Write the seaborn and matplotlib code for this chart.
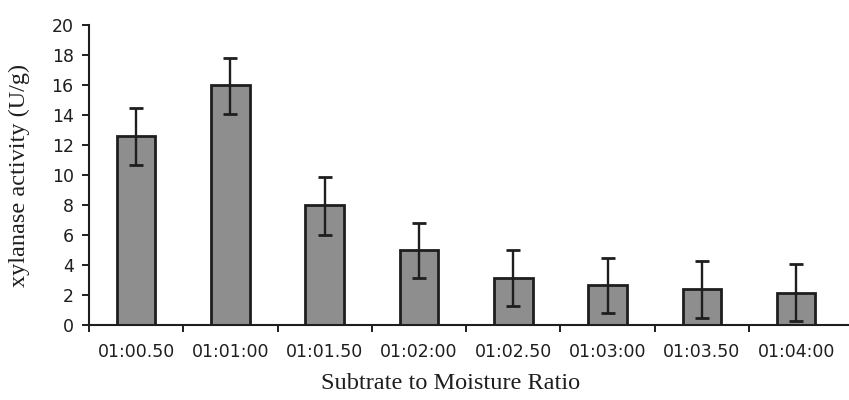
import matplotlib
matplotlib.use("Agg")
import numpy as np
import pandas as pd
import seaborn as sns
from matplotlib import pyplot as plt

ratios = ["01:00.50", "01:01:00", "01:01.50", "01:02:00",
          "01:02.50", "01:03:00", "01:03.50", "01:04:00"]
activity = [12.6, 16.0, 8.0, 5.0, 3.15, 2.65, 2.4, 2.15]
err_upper = [14.5, 17.8, 9.85, 6.8, 5.0, 4.45, 4.25, 4.05]
err_lower = [10.7, 14.1, 6.0, 3.15, 1.3, 0.8, 0.5, 0.3]

sns.set_style("ticks")
plt.rcParams["font.family"] = ["DejaVu Sans"]

df = pd.DataFrame({"ratio": ratios, "activity": activity})

fig = plt.figure(figsize=(8.49, 4.0), dpi=100)
ax = fig.add_axes([89 / 849, 75 / 400, 759 / 849, 300 / 400])

sns.barplot(data=df, x="ratio", y="activity", color="#8e8e8e", saturation=1,
            width=0.41, edgecolor="#1e1e1e", linewidth=2.0, ax=ax)

x = np.arange(len(ratios))
yerr = [np.array(activity) - np.array(err_lower), np.array(err_upper) - np.array(activity)]
ax.errorbar(x, activity, yerr=yerr, fmt="none", ecolor="#1e1e1e",
            elinewidth=1.7, capsize=5, capthick=2.0)

ax.set_ylim(0, 20)
ax.set_xlim(-0.5, len(ratios) - 0.45)
ax.set_yticks(range(0, 21, 2))
ax.set_xticks(np.arange(-0.5, len(ratios) - 0.5, 1.0))
ax.set_xticklabels([])
ax.set_xticks(x, minor=True)
ax.set_xticklabels(ratios, minor=True)
ax.tick_params(axis="x", which="minor", length=0, pad=13, labelsize=12.5, colors="#1e1e1e")
ax.tick_params(axis="x", which="major", length=5, width=1.4, color="#1e1e1e")
ax.tick_params(axis="y", length=5, width=1.4, color="#1e1e1e", labelsize=12.5,
               labelcolor="#1e1e1e", pad=6)

sns.despine(ax=ax)
for s in ["left", "bottom"]:
    ax.spines[s].set_linewidth(1.5)
    ax.spines[s].set_color("#1e1e1e")

ax.set_xlabel("Subtrate to Moisture Ratio", family="Liberation Serif", fontsize=17.5,
              color="#1e1e1e")
ax.set_ylabel("xylanase activity (U/g)", family="Liberation Serif", fontsize=17.5,
              color="#1e1e1e")
ax.xaxis.set_label_coords((451 - 89) / 759, -0.16)
ax.yaxis.set_label_coords(-0.078, (325 - 175) / 300)

fig.savefig("out.png", dpi=100)
